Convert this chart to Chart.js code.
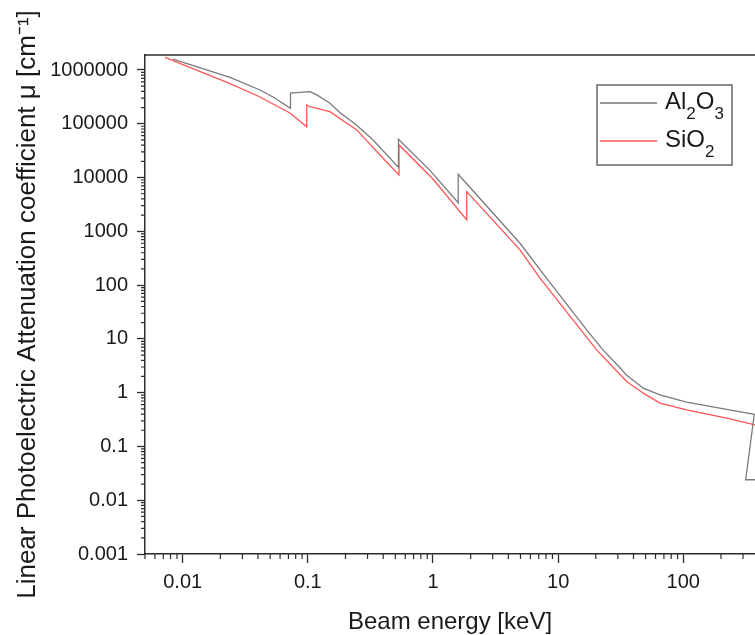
<!DOCTYPE html>
<html>
<head>
<meta charset="utf-8">
<script src="https://cdn.jsdelivr.net/npm/chart.js@4.4.1/dist/chart.umd.min.js"></script>
<style>
html, body { margin: 0; padding: 0; background: #ffffff; overflow: hidden; }
canvas { display: block; }
</style>
</head>
<body>
<canvas id="chart" width="755" height="635"></canvas>
<script>
// ---------- data ----------
const seriesNames = ['Al₂O₃', 'SiO₂'];

const xTickValues = [0.01, 0.1, 1, 10, 100];
const xTickLabels = ['0.01', '0.1', '1', '10', '100'];
const yTickValues = [0.001, 0.01, 0.1, 1, 10, 100, 1000, 10000, 100000, 1000000];
const yTickLabels = ['0.001', '0.01', '0.1', '1', '10', '100', '1000', '10000', '100000', '1000000'];
const xRange = [0.005, 374];
const yRange = [0.001, 1.9e6];

const xTitle = 'Beam energy [keV]';
const yTitle = 'Linear Photoelectric Attenuation coefficient μ [cm⁻¹]';

// Al2O3 (grey)
const al2o3Energy = [0.00837, 0.0239, 0.0415, 0.0527, 0.0727, 0.0727, 0.104, 0.118, 0.150, 0.181, 0.246, 0.332, 0.530, 0.530, 0.946, 1.59, 1.59, 4.96, 8.10, 16.9, 22.8, 31.2, 35.3, 47.9, 65.1, 106, 222, 352, 369, 315, 600];
const al2o3Mu     = [1.6e6, 7.3e5, 4.25e5, 3.15e5, 1.93e5, 3.7e5, 3.95e5, 3.45e5, 2.4e5, 1.6e5, 9.4e4, 5.0e4, 1.54e4, 5.15e4, 1.36e4, 3.4e3, 1.15e4, 600, 134, 14.7, 6.25, 2.9, 2.1, 1.21, 0.91, 0.67, 0.49, 0.405, 0.395, 0.024, 0.024];

// SiO2 (red)
const sio2Energy = [0.00722, 0.0239, 0.0415, 0.0527, 0.072, 0.098, 0.098, 0.104, 0.150, 0.246, 0.377, 0.535, 0.535, 1.0, 1.86, 1.86, 4.96, 7.16, 20.3, 35.3, 47.9, 65.1, 106, 222, 374, 400];
const sio2Mu     = [1.72e6, 5.6e5, 3.15e5, 2.33e5, 1.59e5, 8.8e4, 2.23e5, 2.08e5, 1.68e5, 7.7e4, 2.63e4, 1.12e4, 4.04e4, 9.4e3, 1.63e3, 5.47e3, 451, 135, 6.25, 1.61, 0.979, 0.638, 0.479, 0.336, 0.252, 0.245];

// ---------- helpers ----------
const FONT = "'Liberation Sans', Arial, Helvetica, sans-serif";
const TEXT = '#1a1a1a';
const AXIS = '#2b2b2b';

function pairs(xs, ys) { return xs.map((x, i) => ({ x: x, y: ys[i] })); }

function logMinor(min, max) {
  const out = [];
  for (let d = Math.floor(Math.log10(min)); d <= Math.ceil(Math.log10(max)); d++) {
    for (let m = 2; m <= 9; m++) {
      const v = m * Math.pow(10, d);
      if (v >= min * 0.999 && v <= max * 1.001) out.push(v);
    }
  }
  return out;
}

const subMap = { '₀':'0','₁':'1','₂':'2','₃':'3','₄':'4','₅':'5','₆':'6','₇':'7','₈':'8','₉':'9' };

function drawRich(ctx, text, x, baseline, size, subSize, subDrop) {
  ctx.textBaseline = 'alphabetic';
  ctx.textAlign = 'left';
  let cx = x;
  for (const ch of text) {
    if (subMap[ch]) {
      ctx.font = subSize + 'px ' + FONT;
      ctx.fillText(subMap[ch], cx, baseline + subDrop);
      cx += ctx.measureText(subMap[ch]).width;
    } else {
      ctx.font = size + 'px ' + FONT;
      ctx.fillText(ch, cx, baseline);
      cx += ctx.measureText(ch).width;
    }
  }
}

const framePlugin = {
  id: 'frame',
  afterDraw(chart) {
    const { ctx, chartArea: a, scales } = chart;
    const x = scales.x, y = scales.y;
    ctx.save();
    // top frame line
    ctx.strokeStyle = AXIS;
    ctx.lineWidth = 1.5;
    ctx.beginPath();
    ctx.moveTo(a.left - 0.75, a.top);
    ctx.lineTo(a.right, a.top);
    ctx.stroke();
    // minor ticks
    ctx.lineWidth = 1.2;
    ctx.beginPath();
    for (const v of logMinor(x.min, x.max)) {
      const p = x.getPixelForValue(v);
      ctx.moveTo(p, a.bottom);
      ctx.lineTo(p, a.bottom + 5);
    }
    for (const v of logMinor(y.min, y.max)) {
      const p = y.getPixelForValue(v);
      ctx.moveTo(a.left, p);
      ctx.lineTo(a.left - 4, p);
    }
    ctx.stroke();

    // legend box
    const lg = { left: 597, top: 85, w: 135, h: 80, lineY: [103, 141], base: [109, 147], x0: 600, x1: 657, tx: 665 };
    ctx.strokeStyle = '#666666';
    ctx.lineWidth = 1.5;
    ctx.strokeRect(lg.left, lg.top, lg.w, lg.h);
    chart.data.datasets.forEach((ds, i) => {
      ctx.strokeStyle = ds.borderColor;
      ctx.lineWidth = 1.3;
      ctx.beginPath();
      ctx.moveTo(lg.x0, lg.lineY[i]);
      ctx.lineTo(lg.x1, lg.lineY[i]);
      ctx.stroke();
      ctx.fillStyle = TEXT;
      drawRich(ctx, ds.label, lg.tx, lg.base[i], 24, 17, 10);
    });
    ctx.restore();
  }
};

const ctx = document.getElementById('chart').getContext('2d');
new Chart(ctx, {
  type: 'scatter',
  data: {
    datasets: [
      {
        label: seriesNames[0],
        data: pairs(al2o3Energy, al2o3Mu),
        showLine: true,
        borderColor: '#7a7a7a',
        backgroundColor: '#7a7a7a',
        borderWidth: 1.3,
        pointRadius: 0,
        tension: 0
      },
      {
        label: seriesNames[1],
        data: pairs(sio2Energy, sio2Mu),
        showLine: true,
        borderColor: '#ff5555',
        backgroundColor: '#ff5555',
        borderWidth: 1.3,
        pointRadius: 0,
        tension: 0
      }
    ]
  },
  options: {
    responsive: false,
    animation: false,
    devicePixelRatio: 1,
    layout: { padding: { top: 55, left: 0, right: 0, bottom: 0 } },
    plugins: {
      legend: { display: false },
      tooltip: { enabled: false }
    },
    scales: {
      x: {
        type: 'logarithmic',
        position: 'bottom',
        min: xRange[0],
        max: xRange[1],
        afterFit: (s) => { s.height = 81; },
        afterBuildTicks: (s) => { s.ticks = xTickValues.map(v => ({ value: v })); },
        ticks: {
          autoSkip: false,
          maxRotation: 0,
          padding: 7,
          color: TEXT,
          font: { family: FONT, size: 20 },
          callback: (v, i) => xTickLabels[i]
        },
        grid: { drawOnChartArea: false, drawTicks: true, tickLength: 9, tickColor: AXIS, tickWidth: 1.3 },
        border: { display: true, color: AXIS, width: 1.5 },
        title: {
          display: true,
          text: xTitle,
          color: TEXT,
          font: { family: FONT, size: 24 },
          padding: { top: 0, bottom: -2 }
        }
      },
      y: {
        type: 'logarithmic',
        position: 'left',
        min: yRange[0],
        max: yRange[1],
        afterFit: (s) => { s.width = 145; },
        afterBuildTicks: (s) => { s.ticks = yTickValues.map(v => ({ value: v })); },
        ticks: {
          autoSkip: false,
          padding: 9,
          color: TEXT,
          font: { family: FONT, size: 20 },
          callback: (v, i) => yTickLabels[i]
        },
        grid: { drawOnChartArea: false, drawTicks: true, tickLength: 8, tickColor: AXIS, tickWidth: 1.3 },
        border: { display: true, color: AXIS, width: 1.5 },
        title: {
          display: true,
          text: yTitle,
          color: TEXT,
          font: { family: FONT, size: 26 },
          padding: { top: 12, bottom: 0 }
        }
      }
    }
  },
  plugins: [framePlugin]
});
</script>
</body>
</html>
